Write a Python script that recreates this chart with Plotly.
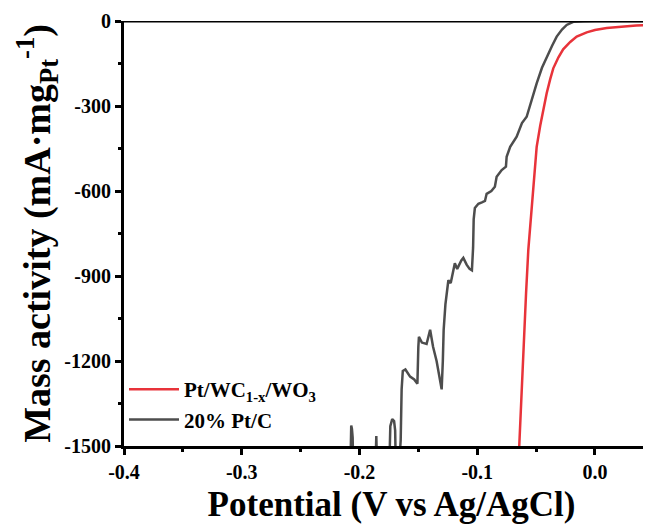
import plotly.graph_objects as go

# Pt/WC1-x/WO3 (red)
red_v = [-0.0643, -0.0625, -0.0605, -0.0585, -0.0566, -0.0545, -0.0524, -0.0495, -0.0465,
         -0.0435, -0.041, -0.038, -0.0354, -0.031, -0.027, -0.021, -0.0155, -0.007,
         0.0, 0.01, 0.021, 0.035, 0.0476, 0.0545]
red_i = [-1500, -1320, -1140, -960, -808, -690, -585, -444, -370,
         -300, -255, -205, -167, -128, -100, -74, -55, -40,
         -32, -25, -20, -16, -13, -12]

# 20% Pt/C (grey)
gray_v = [-0.2078, -0.2070, -0.2064, -0.2058, -0.2052,
          -0.1866, -0.1857, -0.1849,
          -0.1748, -0.1738, -0.1722, -0.1706, -0.1697, -0.1690,
          -0.1668, -0.1650, -0.1642, -0.1632, -0.1610, -0.1590, -0.1570, -0.1535, -0.1508,
          -0.1500, -0.1495, -0.1470, -0.1430, -0.1400, -0.1375, -0.1345, -0.1320, -0.1302,
          -0.1292, -0.1285, -0.1270, -0.1260, -0.1245, -0.1225, -0.1210, -0.1190, -0.1170,
          -0.1155, -0.1135, -0.1118, -0.1090, -0.1065, -0.1045, -0.1035, -0.1030, -0.1020,
          -0.0990, -0.0960, -0.0934, -0.0920, -0.0880, -0.0850, -0.0835, -0.0792, -0.0756,
          -0.0750, -0.0720, -0.0665, -0.0620, -0.0580, -0.0538, -0.0495, -0.0450, -0.0410,
          -0.0365, -0.0325, -0.0280, -0.0240, -0.0184, -0.0100, 0.0, 0.0545]
gray_i = [-1600, -1428, -1440, -1470, -1600,
          -1600, -1465, -1600,
          -1600, -1430, -1405, -1412, -1445, -1600,
          -1600, -1480, -1300, -1235, -1230, -1245, -1255, -1265, -1280,
          -1150, -1115, -1135, -1140, -1090, -1150, -1200, -1260, -1300,
          -1200, -1090, -1000, -960, -915, -925, -890, -855, -875,
          -860, -845, -836, -860, -875, -880, -800, -700, -660,
          -645, -640, -635, -610, -600, -585, -550, -526, -514,
          -479, -444, -408, -360, -338, -275, -220, -165, -126,
          -88, -55, -30, -14, -3, -1, 0, 0]

x_tickvals = [-0.4, -0.3, -0.2, -0.1, 0.0]
x_ticktext = ["-0.4", "-0.3", "-0.2", "-0.1", "0.0"]
y_tickvals = [0, -300, -600, -900, -1200, -1500]
y_ticktext = ["0", "-300", "-600", "-900", "-1200", "-1500"]

x_range = [-0.4, 0.0544]
y_range = [-1500, 0]

font_family = "Liberation Serif"

fig = go.Figure()
fig.add_trace(go.Scatter(x=red_v, y=red_i, mode="lines", name="Pt/WC<sub>1-x</sub>/WO<sub>3</sub>",
                         line=dict(color="#e8333a", width=2.5)))
fig.add_trace(go.Scatter(x=gray_v, y=gray_i, mode="lines", name="20% Pt/C",
                         line=dict(color="#4d4d4d", width=2.5)))

# top frame line at y = 0
fig.add_shape(type="line", xref="paper", yref="y", x0=0, x1=1, y0=0, y1=0,
              line=dict(color="black", width=3), layer="above")

fig.update_layout(
    width=651, height=531,
    margin=dict(l=116, r=0, t=13, b=93),
    plot_bgcolor="white", paper_bgcolor="white",
    showlegend=True,
    legend=dict(x=0.0, y=0.014, xanchor="left", yanchor="bottom",
                font=dict(family=font_family, size=21, color="black", weight="bold"),
                bgcolor="rgba(0,0,0,0)", tracegroupgap=0, itemwidth=50),
    xaxis=dict(range=x_range, tickvals=x_tickvals, ticktext=x_ticktext, automargin=False,
               showline=True, linecolor="black", linewidth=3,
               ticks="outside", ticklen=6, tickwidth=3, tickcolor="black",
               minor=dict(ticks="outside", ticklen=3, tickwidth=3, dtick=0.05, tickcolor="black"),
               showgrid=False, zeroline=False,
               tickfont=dict(family=font_family, size=20, color="black", weight="bold"),
               title=dict(text="Potential (V vs Ag/AgCl)", standoff=10,
                          font=dict(family=font_family, size=35, color="black", weight="bold"))),
    yaxis=dict(range=y_range, tickvals=y_tickvals, ticktext=y_ticktext, automargin=False,
               showline=True, linecolor="black", linewidth=3,
               ticks="outside", ticklen=6, tickwidth=3, tickcolor="black",
               minor=dict(ticks="outside", ticklen=3, tickwidth=3, dtick=150, tickcolor="black"),
               showgrid=False, zeroline=False,
               tickfont=dict(family=font_family, size=20, color="black", weight="bold"),
               title=dict(text="Mass activity (mA·mg<sub>Pt</sub><sup>-1</sup>)", standoff=0,
                          font=dict(family=font_family, size=38, color="black", weight="bold"))),
)

fig.write_html("out.html")
